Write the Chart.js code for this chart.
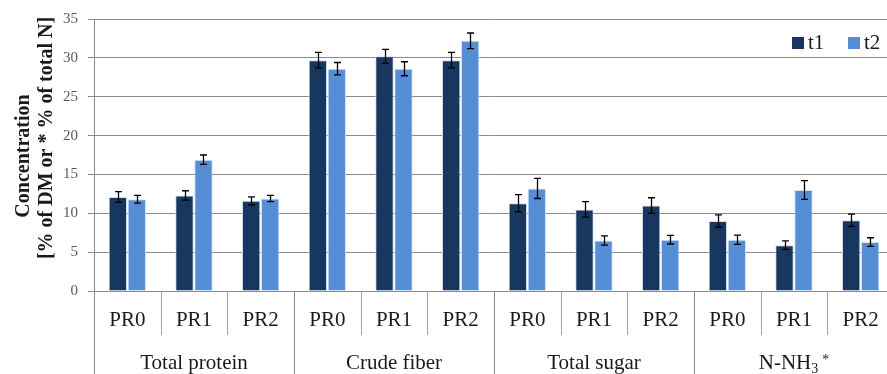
<!DOCTYPE html>
<html>
<head>
<meta charset="utf-8">
<script src="https://cdn.jsdelivr.net/npm/chart.js@4.4.1/dist/chart.umd.min.js"></script>
<style>
  html, body { margin: 0; padding: 0; background: #ffffff; overflow: hidden; }
  #wrap { width: 900px; height: 374px; position: relative; }
</style>
</head>
<body>
<div id="wrap"><canvas id="chart" width="900" height="374"></canvas></div>
<script>
// Sample labels (three treatments within each analysed parameter)
const categories = ['PR0', 'PR1', 'PR2', 'PR0', 'PR1', 'PR2', 'PR0', 'PR1', 'PR2', 'PR0', 'PR1', 'PR2'];
// Parameter groups; "_" marks a subscript character, "^" a superscript one
const groupLabels = ['Total protein', 'Crude fiber', 'Total sugar', 'N-NH_3^*'];
const groupSize = 3;

// Mean concentrations at the two sampling times
const t1Values = [12.1, 12.3, 11.6, 29.7, 30.2, 29.7, 11.3, 10.5, 11.0, 9.0, 5.9, 9.1];
const t2Values = [11.8, 16.9, 11.9, 28.6, 28.6, 32.2, 13.2, 6.5, 6.6, 6.6, 13.0, 6.3];
// Standard deviations shown as error bars
const t1Errors = [0.7, 0.6, 0.5, 1.0, 0.9, 1.0, 1.1, 1.0, 1.0, 0.8, 0.55, 0.8];
const t2Errors = [0.5, 0.6, 0.4, 0.8, 0.9, 1.0, 1.3, 0.6, 0.55, 0.6, 1.2, 0.55];

const yTicks = [0, 5, 10, 15, 20, 25, 30, 35];
const yTitle = ['Concentration', '[% of DM or * % of total N]'];

const SERIF = '"Liberation Serif", "DejaVu Serif", serif';
const GRID = '#8a8a8a';
const DIVIDER = '#a6a6a6';
const TEXT = '#1a1a1a';

// Error bars drawn from each bar's own element and the y scale
const errorBars = {
  id: 'errorBars',
  afterDatasetsDraw(chart) {
    const ctx = chart.ctx;
    const y = chart.scales.y;
    ctx.save();
    ctx.strokeStyle = '#000000';
    ctx.lineWidth = 1.3;
    chart.data.datasets.forEach((ds, di) => {
      const meta = chart.getDatasetMeta(di);
      meta.data.forEach((bar, i) => {
        const v = ds.data[i], e = ds.errors[i];
        const x = Math.round(bar.x) + 0.5;
        const yHi = y.getPixelForValue(v + e);
        const yLo = y.getPixelForValue(v - e);
        const cap = 3.5;
        ctx.beginPath();
        ctx.moveTo(x, yHi); ctx.lineTo(x, yLo);
        ctx.moveTo(x - cap, yHi); ctx.lineTo(x + cap, yHi);
        ctx.moveTo(x - cap, yLo); ctx.lineTo(x + cap, yLo);
        ctx.stroke();
      });
    });
    ctx.restore();
  }
};

// Draws text with single-character sub/superscripts marked by _ and ^
function drawRichText(ctx, text, cx, baseline, size) {
  const parts = [];
  for (let i = 0; i < text.length; i++) {
    const c = text[i];
    if ((c === '_' || c === '^') && i + 1 < text.length) {
      parts.push({ t: text[i + 1], kind: c });
      i++;
    } else {
      const last = parts[parts.length - 1];
      if (last && last.kind === 'n') last.t += c; else parts.push({ t: c, kind: 'n' });
    }
  }
  const small = Math.round(size * 0.66);
  const fontFor = p => (p.kind === 'n' ? size : small) + 'px ' + SERIF;
  const gapFor = p => (p.kind === '^' ? 4 : 0);
  let total = 0;
  parts.forEach(p => { ctx.font = fontFor(p); p.w = ctx.measureText(p.t).width + gapFor(p); total += p.w; });
  let x = cx - total / 2;
  ctx.textAlign = 'left';
  ctx.textBaseline = 'alphabetic';
  parts.forEach(p => {
    ctx.font = fontFor(p);
    let yy = baseline;
    if (p.kind === '_') yy = baseline + size * 0.2;
    if (p.kind === '^') yy = baseline - size * 0.22;
    ctx.fillText(p.t, x + gapFor(p), yy);
    x += p.w;
  });
}

// Category separators below the axis and the parameter group names
const groupAxis = {
  id: 'groupAxis',
  afterDraw(chart) {
    const ctx = chart.ctx;
    const xs = chart.scales.x;
    const area = chart.chartArea;
    const n = categories.length;
    const half = (xs.getPixelForValue(1) - xs.getPixelForValue(0)) / 2;
    ctx.save();
    ctx.lineWidth = 1;
    for (let i = 0; i <= n; i++) {
      const px = Math.round(i < n ? xs.getPixelForValue(i) - half : xs.getPixelForValue(n - 1) + half) + 0.5;
      const isGroupEdge = i % groupSize === 0;
      ctx.strokeStyle = isGroupEdge ? GRID : DIVIDER;
      ctx.beginPath();
      ctx.moveTo(px, area.bottom);
      ctx.lineTo(px, isGroupEdge ? chart.height : area.bottom + 44);
      ctx.stroke();
    }
    ctx.fillStyle = TEXT;
    groupLabels.forEach((g, gi) => {
      const mid = xs.getPixelForValue(gi * groupSize + (groupSize - 1) / 2);
      drawRichText(ctx, g, mid, area.bottom + 78, 21);
    });
    ctx.restore();
  }
};

// Two-line rotated axis title and the legend inside the plot
const decorations = {
  id: 'decorations',
  afterDraw(chart) {
    const ctx = chart.ctx;
    const area = chart.chartArea;
    ctx.save();
    ctx.fillStyle = TEXT;
    ctx.font = 'bold 20px ' + SERIF;
    ctx.textAlign = 'center';
    ctx.textBaseline = 'middle';
    const mid = (area.top + area.bottom) / 2;
    [[yTitle[0], 24, mid + 1], [yTitle[1], 47, mid - 17]].forEach(([t, x, y]) => {
      ctx.save();
      ctx.translate(x, y);
      ctx.rotate(-Math.PI / 2);
      ctx.fillText(t, 0, 0);
      ctx.restore();
    });

    // legend
    const boxTop = area.top + 18;
    let x = 792;
    ctx.font = '21px ' + SERIF;
    ctx.textAlign = 'left';
    ctx.textBaseline = 'middle';
    chart.data.datasets.forEach(ds => {
      ctx.fillStyle = ds.backgroundColor;
      ctx.fillRect(x, boxTop, 12, 12);
      ctx.fillStyle = TEXT;
      ctx.fillText(ds.label, x + 16, boxTop + 6);
      x += 56;
    });
    ctx.restore();
  }
};

new Chart(document.getElementById('chart'), {
  type: 'bar',
  data: {
    labels: categories,
    datasets: [
      { label: 't1', data: t1Values, errors: t1Errors, backgroundColor: '#17375e', borderColor: '#d9e0ea', borderWidth: 1 },
      { label: 't2', data: t2Values, errors: t2Errors, backgroundColor: '#558ed5', borderColor: '#d9e4f2', borderWidth: 1 }
    ]
  },
  options: {
    responsive: false,
    animation: false,
    layout: { padding: { top: 19, right: 6, left: 0, bottom: 0 } },
    datasets: { bar: { categoryPercentage: 0.57, barPercentage: 0.97 } },
    plugins: {
      legend: { display: false },
      tooltip: { enabled: false }
    },
    scales: {
      x: {
        grid: { display: false, drawTicks: false },
        border: { display: true, color: GRID, width: 1 },
        ticks: { color: TEXT, font: { family: SERIF, size: 21 }, padding: 17, maxRotation: 0, autoSkip: false },
        afterFit(scale) { scale.height = 83; }
      },
      y: {
        min: 0,
        max: 35,
        afterBuildTicks(scale) { scale.ticks = yTicks.map(v => ({ value: v })); },
        grid: { color: GRID, lineWidth: 1, tickLength: 6, drawTicks: true },
        border: { display: true, color: GRID, width: 1 },
        ticks: { color: '#595959', font: { family: SERIF, size: 15 }, padding: 10 },
        afterFit(scale) { scale.width = 94; }
      }
    }
  },
  plugins: [errorBars, groupAxis, decorations]
});
</script>
</body>
</html>
